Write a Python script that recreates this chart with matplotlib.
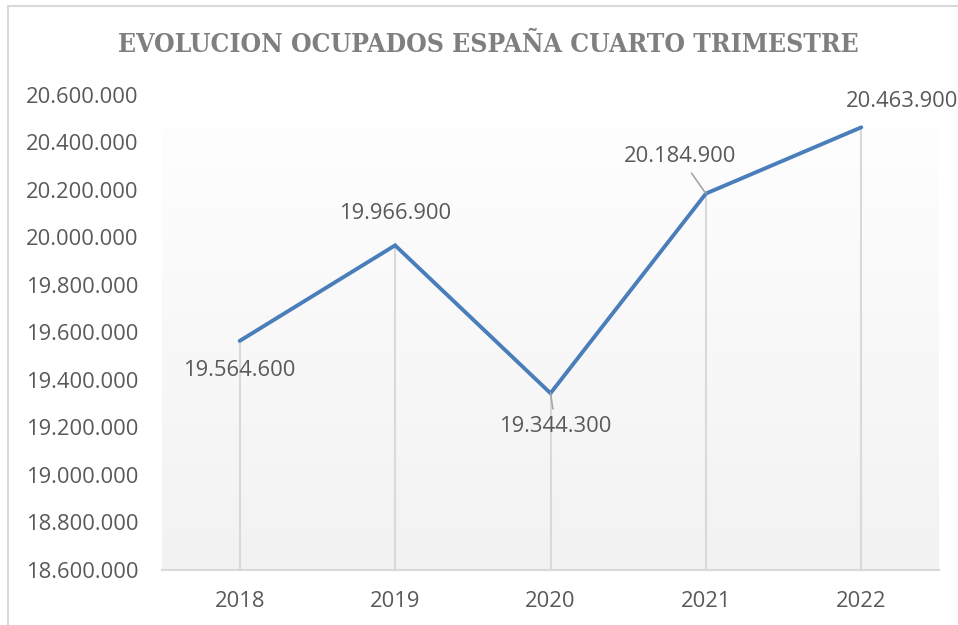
import numpy as np
import matplotlib
matplotlib.use("Agg")
import matplotlib.pyplot as plt
from matplotlib.patches import Rectangle

years = ["2018", "2019", "2020", "2021", "2022"]
ocupados = [19564600, 19966900, 19344300, 20184900, 20463900]
label_texts = ["19.564.600", "19.966.900", "19.344.300", "20.184.900", "20.463.900"]
yticks = [18600000, 18800000, 19000000, 19200000, 19400000, 19600000,
          19800000, 20000000, 20200000, 20400000, 20600000]
title = "EVOLUCION OCUPADOS ESPAÑA CUARTO TRIMESTRE"

def fmt(v):
    return f"{int(v):,}".replace(",", ".")

TXT = "#595959"
FONT = "Open Sans"
FS = 15.8

fig = plt.figure(figsize=(9.58, 6.25), dpi=100)
fig.patch.set_facecolor("white")
# chart border
fig.add_artist(Rectangle((8/958, -0.05), 1.2, 1 - 6/625 + 0.05, transform=fig.transFigure,
                         fill=False, edgecolor="#d9d9d9", linewidth=1.5))

ax = fig.add_axes([162/958, 1 - 570/625, (939-162)/958, (570-95)/625])
ax.set_facecolor("none")
grad = np.linspace(1.0, 0.0, 256).reshape(-1, 1)
top = np.array([1.0, 1.0, 1.0]); bot = np.array([0xf2, 0xf2, 0xf2]) / 255
img = top[None, None, :] * grad[:, :, None] + bot[None, None, :] * (1 - grad[:, :, None])
ax.imshow(img, extent=[0, 1, 0, 1], transform=ax.transAxes, aspect="auto", zorder=0)

x = np.arange(len(years))
ax.set_xlim(-0.5, len(years) - 0.5)
ax.set_ylim(yticks[0], yticks[-1])

# drop lines
ax.vlines(x, yticks[0], ocupados, colors="#d9d9d9", linewidth=1.5, zorder=1)
ax.plot(x, ocupados, color="#4a7ebb", linewidth=2.8, solid_capstyle="round",
        solid_joinstyle="miter", zorder=3)

offsets = [(0, -30), (0, 32), (5, -33), (-26, 37), (41, 26)]
leader = [False, False, True, True, False]
for i, (v, t) in enumerate(zip(ocupados, label_texts)):
    kw = {}
    if leader[i]:
        kw["arrowprops"] = dict(arrowstyle="-", color="#a6a6a6", lw=1.2, shrinkA=3, shrinkB=0)
    ax.annotate(t, xy=(x[i], v), xytext=offsets[i], textcoords="offset pixels",
                ha="center", va="center", fontsize=FS, color=TXT, family=FONT,
                zorder=4, **kw)

ax.set_xticks(x)
ax.set_xticklabels(years, fontsize=FS, color=TXT, family=FONT)
ax.set_yticks(yticks)
ax.set_yticklabels([fmt(v) for v in yticks], fontsize=FS, color=TXT, family=FONT)
ax.tick_params(axis="both", length=0)
ax.tick_params(axis="x", pad=15)
ax.tick_params(axis="y", pad=17)
for s in ["top", "right", "left"]:
    ax.spines[s].set_visible(False)
ax.spines["bottom"].set_color("#d9d9d9")
ax.spines["bottom"].set_linewidth(1.5)

fig.text(488/958, 1 - 45/625, title, ha="center", va="center", fontsize=19,
         fontweight="bold", fontstretch="condensed", color="#7f7f7f",
         family=["DejaVu Serif"])

fig.savefig("out.png", dpi=100)
